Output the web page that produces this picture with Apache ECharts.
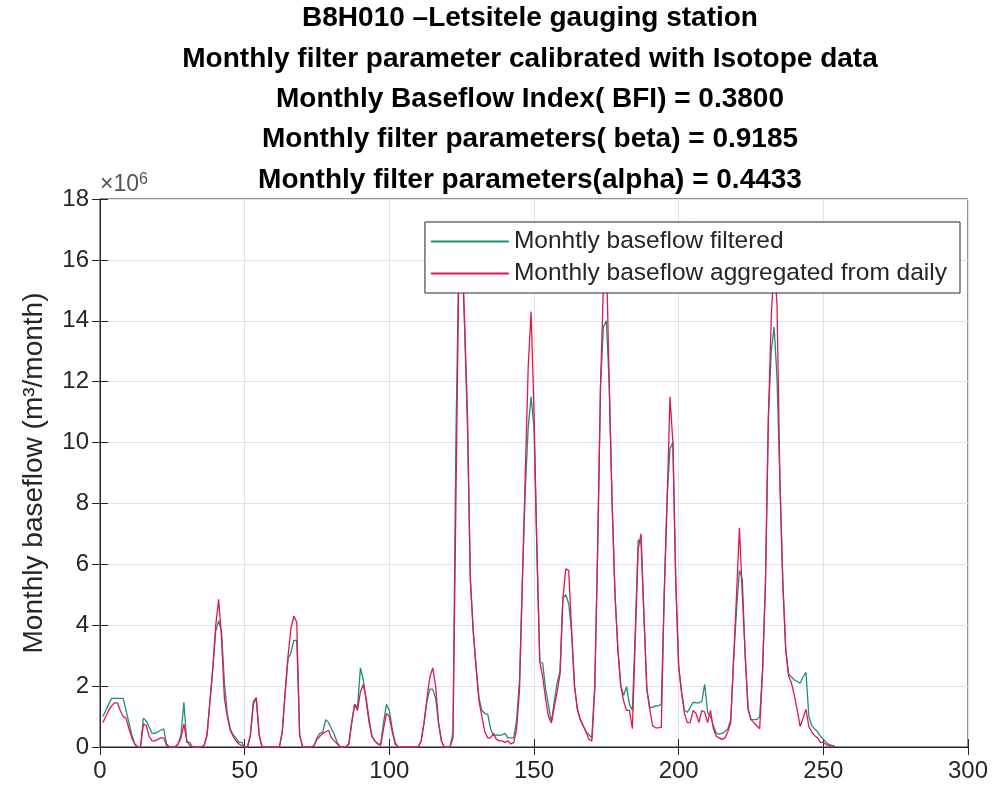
<!DOCTYPE html>
<html>
<head>
<meta charset="utf-8">
<script src="https://cdn.jsdelivr.net/npm/echarts@6/dist/echarts.min.js"></script>
<style>
html,body{margin:0;padding:0;background:#fff;}
#chart{width:994px;height:787px;}
</style>
</head>
<body>
<div id="chart"></div>
<script>
// Values in units of 10^6 m^3/month, month index starting at 1
var startMonth = 1;
var filtered = [
1.0,1.2,1.4,1.6,1.6,1.6,1.6,1.6,1.2,0.8,
0.4,0.1,0,0,0.95,0.85,0.65,0.45,0.45,0.5,
0.55,0.6,0.1,0,0,0,0.1,0.4,1.47,0.15,
0.15,0,0,0,0,0.05,0.4,1.5,2.6,3.8,
4.15,3.8,2.1,1.1,0.6,0.4,0.3,0.15,0.15,0,
0,0.4,1.5,1.6,0.4,0,0,0,0,0,
0,0,0.5,1.8,2.9,3.1,3.5,3.5,0.4,0,
0,0,0,0.05,0.3,0.45,0.5,0.9,0.8,0.6,
0.4,0.15,0,0,0,0.1,0.8,1.4,1.3,2.6,
2.2,1.5,0.8,0.35,0.2,0.1,0.1,0.8,1.4,1.2,
0.6,0.15,0,0,0,0,0,0,0,0,
0.2,0.8,1.5,1.9,1.9,1.6,0.8,0.2,0,0,
0,0.5,10.0,16.0,16.6,13.8,10.5,5.5,3.8,2.6,
1.6,1.2,1.1,1.08,0.6,0.37,0.4,0.38,0.4,0.45,
0.3,0.3,0.3,0.9,2.2,5.5,8.5,10.5,11.5,10.5,
6.5,2.8,2.75,1.9,1.4,0.8,1.5,2.1,2.5,4.9,
5.0,4.7,3.8,2.0,1.24,0.9,0.7,0.5,0.4,0.3,
2.0,6.5,11.9,13.8,14.0,11.9,8.0,5.0,3.2,2.0,
1.7,1.98,1.4,1.2,3.8,6.8,6.7,4.3,1.9,1.3,
1.3,1.35,1.35,1.4,5.0,8.2,9.8,10.0,5.4,2.65,
1.8,1.2,1.14,1.3,1.47,1.45,1.45,1.5,2.06,1.14,
1.0,0.7,0.45,0.42,0.45,0.5,0.6,0.9,2.9,4.5,
5.8,5.5,3.0,1.24,0.9,0.9,0.9,1.0,2.5,5.4,
10.8,13.0,13.8,12.1,8.7,5.4,3.2,2.4,2.3,2.2,
2.15,2.1,2.3,2.45,1.0,0.7,0.59,0.5,0.35,0.26,
0.15,0.08,0.05,0.02
];
var aggregated = [
0.8,1.0,1.2,1.35,1.45,1.45,1.2,1.0,0.95,0.6,
0.3,0.1,0,0,0.75,0.7,0.35,0.2,0.2,0.25,
0.3,0.3,0.05,0,0,0,0.1,0.3,0.75,0.2,
0.05,0,0,0,0,0.05,0.4,1.5,2.6,4.0,
4.85,3.6,1.6,1.0,0.55,0.35,0.2,0.1,0.05,0,
0,0.4,1.4,1.63,0.4,0,0,0,0,0,
0,0,0.5,1.8,3.0,3.9,4.3,4.1,0.4,0,
0,0,0,0.05,0.25,0.35,0.45,0.5,0.55,0.3,
0.2,0.1,0,0,0,0.1,0.8,1.4,1.2,1.8,
2.05,1.6,0.9,0.35,0.2,0.1,0.05,0.6,1.1,1.0,
0.5,0.1,0,0,0,0,0,0,0,0,
0.2,0.8,1.6,2.3,2.6,2.0,0.8,0.2,0,0,
0,0.3,8.0,15.5,16.8,14.0,11.0,5.5,3.8,2.6,
1.5,1.0,0.5,0.3,0.3,0.45,0.25,0.2,0.2,0.15,
0.2,0.1,0.15,0.6,1.9,5.5,9.0,12.5,14.3,11.0,
6.5,2.8,2.3,1.6,1.0,0.8,1.3,1.8,2.4,4.9,
5.85,5.8,3.8,2.0,1.24,0.9,0.7,0.5,0.25,0.2,
1.9,6.5,11.9,15.2,16.3,11.9,8.0,5.0,3.2,2.0,
1.5,1.2,1.2,0.6,3.5,6.5,7.0,4.3,1.9,1.24,
0.7,0.63,0.63,0.65,5.0,8.0,11.5,10.0,5.4,2.65,
1.8,1.1,0.8,0.8,1.2,1.1,0.8,1.2,1.15,0.8,
1.2,0.6,0.35,0.3,0.25,0.3,0.5,0.8,2.9,5.0,
7.2,5.0,3.0,1.24,0.9,0.8,0.7,0.6,2.5,5.4,
10.8,14.1,16.0,14.5,8.7,5.4,3.2,2.33,2.1,1.68,
1.2,0.67,0.95,1.24,0.67,0.5,0.37,0.3,0.15,0.15,
0.08,0.05,0.04,0.02
];
var xTicks = [0, 50, 100, 150, 200, 250, 300];
var yTicks = [0, 2, 4, 6, 8, 10, 12, 14, 16, 18];
var titleLines = [
  'B8H010 \u2013Letsitele gauging station',
  'Monthly filter parameter calibrated with Isotope data',
  'Monthly Baseflow Index( BFI) = 0.3800',
  'Monthly filter parameters( beta) = 0.9185',
  'Monthly filter parameters(alpha) = 0.4433'
];
var seriesNames = ['Monhtly baseflow filtered', 'Monthly baseflow aggregated from daily'];

function pairs(arr) {
  return arr.map(function (v, i) { return [startMonth + i, v]; });
}

var FONT = 'Liberation Sans, Arial, Helvetica, sans-serif';
var TXT = '#262626';
var titleTops = [4, 45, 85, 125, 166];

var chart = echarts.init(document.getElementById('chart'), null, {renderer: 'canvas'});
var option = {
  animation: false,
  backgroundColor: '#ffffff',
  title: titleLines.map(function (t, i) {
    return {
      text: t, left: 530, textAlign: 'center', top: titleTops[i], padding: 0,
      textStyle: {fontFamily: FONT, fontSize: 28, fontWeight: 'bold', color: '#000'}
    };
  }),
  grid: {left: 100, right: 26, top: 199, bottom: 40, show: true, borderColor: TXT, borderWidth: 1, backgroundColor: 'transparent'},
  legend: {
    data: seriesNames,
    orient: 'vertical',
    right: 34, top: 222,
    z: 10,
    backgroundColor: '#ffffff',
    borderColor: TXT, borderWidth: 1,
    padding: [7, 13, 7, 6],
    itemGap: 7,
    itemWidth: 78, itemHeight: 2, icon: 'rect',
    textStyle: {fontFamily: FONT, fontSize: 24.5, color: TXT}
  },
  xAxis: [{
    type: 'value', min: xTicks[0], max: xTicks[xTicks.length - 1], interval: 50,
    axisLine: {show: true, lineStyle: {color: TXT}},
    axisTick: {show: true, inside: true, length: 8, lineStyle: {color: TXT}},
    axisLabel: {fontFamily: FONT, fontSize: 24, color: TXT, margin: 12},
    splitLine: {show: true, lineStyle: {color: '#e3e3e3', width: 1}}
  }, {
    type: 'value', position: 'top', min: xTicks[0], max: xTicks[xTicks.length - 1], interval: 50,
    axisLine: {show: true, lineStyle: {color: TXT}},
    axisTick: {show: true, inside: true, length: 8, lineStyle: {color: TXT}},
    axisLabel: {show: false}, splitLine: {show: false}
  }],
  yAxis: [{
    type: 'value', min: yTicks[0], max: yTicks[yTicks.length - 1], interval: 2,
    name: 'Monthly baseflow (m\u00b3/month)',
    nameLocation: 'middle', nameGap: 52, nameRotate: 90,
    nameTextStyle: {fontFamily: FONT, fontSize: 28, color: TXT},
    axisLine: {show: true, lineStyle: {color: TXT}},
    axisTick: {show: true, inside: true, length: 8, lineStyle: {color: TXT}},
    axisLabel: {fontFamily: FONT, fontSize: 24, color: TXT, margin: 11},
    splitLine: {show: true, lineStyle: {color: '#e3e3e3', width: 1}}
  }, {
    type: 'value', position: 'right', min: yTicks[0], max: yTicks[yTicks.length - 1], interval: 2,
    axisLine: {show: true, lineStyle: {color: TXT}},
    axisTick: {show: true, inside: true, length: 8, lineStyle: {color: TXT}},
    axisLabel: {show: false}, splitLine: {show: false}
  }],
  graphic: [{
    type: 'text', left: 100, top: 172, z: 10,
    style: {
      text: '{a|\u00d710}{b|6}',
      rich: {
        a: {fontFamily: FONT, fontSize: 23, fill: '#555'},
        b: {fontFamily: FONT, fontSize: 16, fill: '#555', verticalAlign: 'top', padding: [0, 0, 10, 0]}
      }
    }
  }],
  series: [{
    name: seriesNames[0], type: 'line', data: pairs(filtered),
    showSymbol: false, symbol: 'none',
    lineStyle: {color: '#1f8f73', width: 1.3}, itemStyle: {color: '#1f8f73'}, z: 2
  }, {
    name: seriesNames[1], type: 'line', data: pairs(aggregated),
    showSymbol: false, symbol: 'none',
    lineStyle: {color: '#e3174a', width: 1.3}, itemStyle: {color: '#e3174a'}, z: 3
  }]
};
chart.setOption(option);
</script>
</body>
</html>
